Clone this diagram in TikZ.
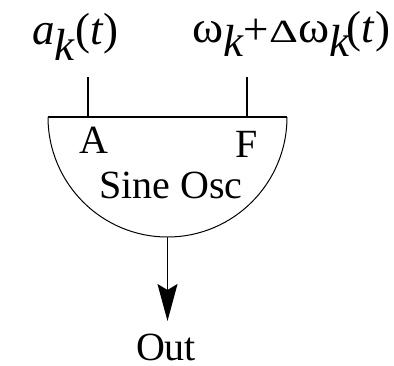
\documentclass[tikz,border=0pt]{standalone}
\usepackage{fontspec}
\setmainfont{Liberation Serif}
\usetikzlibrary{arrows.meta}
\tikzset{
  lbl/.style={inner sep=0pt,outer sep=0pt,anchor=base,font=\fontsize{40}{40}\selectfont,text=black},
  biglbl/.style={inner sep=0pt,outer sep=0pt,anchor=base west,font=\fontsize{45}{45}\selectfont,text=black},
  wire/.style={draw=black,line width=1.3pt},
  osc/.style={draw=black,line width=1pt},
  outarrow/.style={wire,-{Stealth[length=37pt,width=20pt,inset=6pt]}}
}
\newcommand{\subk}[1][-16pt]{\raisebox{#1}{\textit{k}}}
\begin{document}
\begin{tikzpicture}[x=1pt,y=-1pt]
\useasboundingbox (0,0) rectangle (394,365);
\coordinate (tl) at (48,117);
\coordinate (tr) at (287,117);
\coordinate (ain) at (88,77);
\coordinate (atop) at (88,117);
\coordinate (fin) at (247,77);
\coordinate (ftop) at (247,117);
\coordinate (obot) at (167.5,237);
\coordinate (oend) at (167.5,321);
\draw[osc] (tl) arc[start angle=180,end angle=360,x radius=119.5pt,y radius=120pt];
\draw[wire] (tl) -- (tr);
\draw[wire] (ain) -- (atop);
\draw[wire] (fin) -- (ftop);
\draw[outarrow] (obot) -- (oend);
\node[biglbl] (alabel) at (32,44) {\textit{a}\subk(\textit{t})};
\node[biglbl] (flabel) at (192,42) {\scalebox{1.05}[1]{ω}\subk[-14pt]\raisebox{-2.5pt}{+}\scalebox{1.0}[0.72]{Δ}\scalebox{1.05}[1]{ω}\subk[-14pt]\kern-3pt(\textit{t})};
\node[lbl] (A) at (94,153) {A};
\node[lbl] (F) at (247,157) {F};
\node[lbl] (sine) at (171,198) {Sine Osc};
\node[lbl] (out) at (166,360) {Out};
\end{tikzpicture}
\end{document}
